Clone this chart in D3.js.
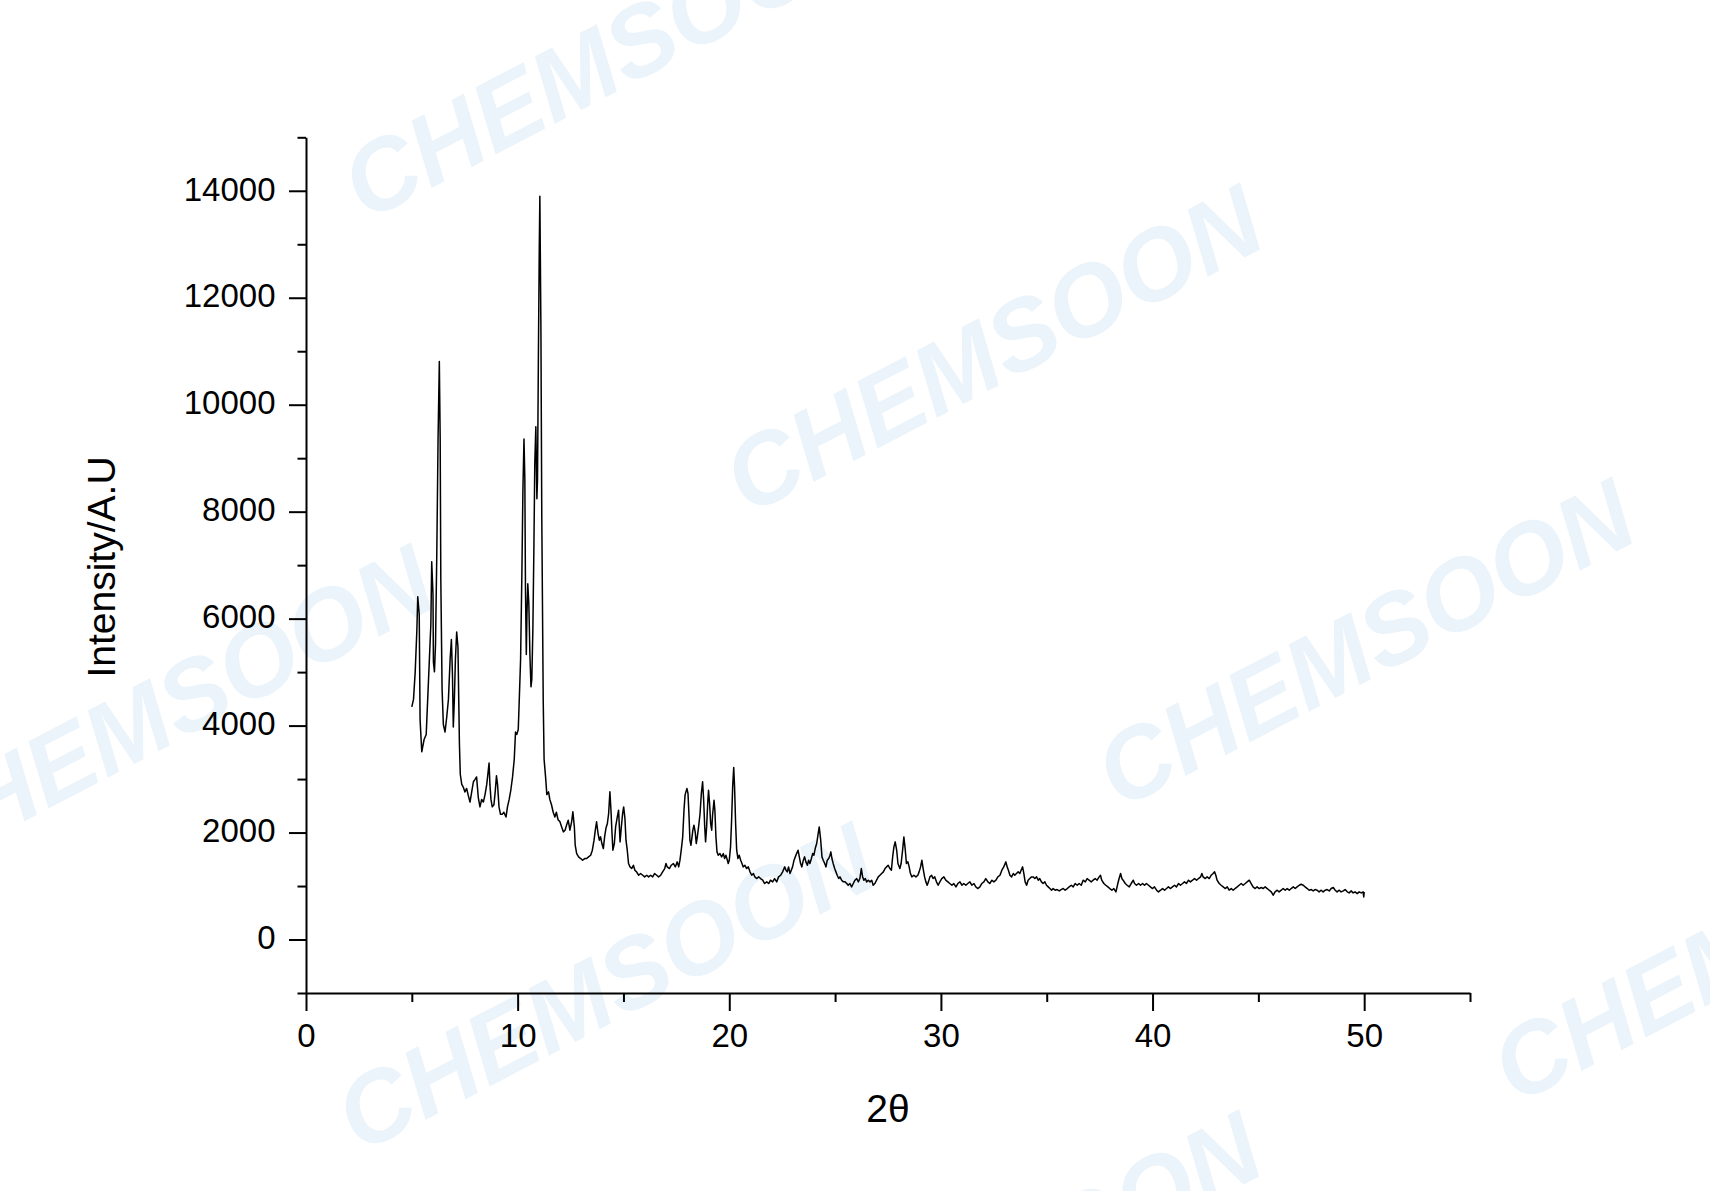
<!DOCTYPE html>
<html>
<head>
<meta charset="utf-8">
<script src="https://cdn.jsdelivr.net/npm/d3@7"></script>
<style>
  body { margin: 0; background: #fff; }
  svg { display: block; }
  text { font-family: "Liberation Sans", Arial, sans-serif; }
</style>
</head>
<body>
<div id="xrd-chart"></div>
<script>
// XRD pattern, values as [2theta, intensity]
const lowAngle = [
  [5.0,4350],[5.08,4490],[5.16,5005],[5.24,5800],[5.28,6410],[5.35,6080],[5.39,4115],[5.47,3510],
  [5.58,3740],[5.68,3835],[5.74,4400],[5.83,5240],[5.9,5895],[5.94,7065],[6.0,6460],[6.02,5190],
  [6.07,5005],[6.12,5520],[6.18,7206],[6.24,9360],[6.3,10810],[6.34,9360],[6.37,6740],[6.43,4680],
  [6.49,4020],[6.57,3880],[6.65,4160],[6.73,4490],[6.81,5240],[6.87,5610],[6.92,4960],[6.96,3975],
  [7.01,4490],[7.06,5240],[7.12,5750],[7.18,5470],[7.25,3650],[7.29,3090],[7.36,2900],[7.43,2850],
  [7.51,2760],[7.59,2825],[7.67,2690],[7.75,2570],[7.83,2760],[7.91,2950],[7.98,2990],[8.06,3040],
  [8.14,2660],[8.22,2480],[8.3,2620],[8.38,2570],[8.46,2710],[8.54,2900],[8.58,3040],[8.65,3300],
  [8.69,2900],[8.74,2620],[8.8,2480],[8.88,2520],[8.94,2760],[9.0,3060],[9.05,2900],[9.12,2480],
  [9.19,2340],[9.27,2340],[9.35,2380],[9.45,2290],[9.52,2480],[9.6,2620],[9.68,2800],[9.76,3040],
  [9.84,3370],[9.9,3880],[9.96,3835],[10.03,3930],[10.07,4400],[10.14,5240],[10.2,6830],[10.25,8420],
  [10.3,9360],[10.34,8610],[10.37,6550],[10.41,5330],[10.44,6080],[10.48,6650],[10.53,6270],[10.58,5330],
  [10.63,4725],[10.67,4865],[10.72,5800],[10.77,7390],[10.81,8890],[10.86,9590],[10.91,8240],[10.94,8610],
  [10.98,10860],[11.02,12830],[11.05,13900],[11.1,11420],[11.14,7950],[11.21,4440],[11.25,3370],[11.32,3040],
  [11.38,2710],[11.46,2760],[11.52,2620],[11.6,2520],[11.68,2380],[11.76,2290],[11.83,2380],[11.91,2240]
];

const midAngle = [
  [12.0,2200],[12.08,2106],[12.16,2013],[12.24,2044],[12.31,2137],[12.39,2231],[12.47,2044],[12.55,2200],
  [12.61,2387],[12.68,2106],[12.72,1763],[12.79,1607],[12.88,1545],[12.98,1514],[13.07,1483],[13.17,1514],
  [13.26,1514],[13.35,1545],[13.45,1576],[13.53,1670],[13.61,1857],[13.67,2044],[13.73,2200],[13.8,1982],
  [13.86,1857],[13.92,1920],[13.98,1795],[14.05,1701],[14.11,1920],[14.17,2075],[14.24,2169],[14.3,2356],
  [14.36,2761],[14.41,2418],[14.46,1982],[14.5,1670],[14.57,1795],[14.63,2106],[14.71,2293],[14.77,2418],
  [14.84,1826],[14.9,2106],[14.96,2356],[15.01,2480],[15.07,2262],[15.12,1857],[15.18,1670],[15.24,1421],
  [15.31,1358],[15.39,1327],[15.47,1389],[15.54,1296],[15.62,1265],[15.72,1202],[15.81,1234],[15.91,1202],
  [16.0,1171],[16.1,1202],[16.19,1171],[16.28,1202],[16.38,1171],[16.47,1234],[16.57,1202],[16.66,1171],
  [16.76,1202],[16.85,1265],[16.95,1327],[17.01,1421],[17.07,1358],[17.17,1327],[17.26,1389],[17.36,1421],
  [17.45,1358],[17.54,1452],[17.61,1358],[17.67,1483],[17.73,1670],[17.8,1920],[17.86,2418],[17.91,2698],
  [17.95,2761],[18.0,2823],[18.05,2730],[18.1,2293],[18.14,1857],[18.19,1763],[18.24,1920],[18.28,2044],
  [18.33,2137],[18.39,2013],[18.44,1795],[18.49,1920],[18.55,2106],[18.62,2356],[18.68,2730],[18.74,2948],
  [18.79,2605],[18.84,2106],[18.88,1826],[18.93,2106],[18.98,2543],[19.02,2792],[19.07,2543],[19.12,2169],
  [19.17,2044],[19.21,2324],[19.28,2605],[19.32,2418],[19.37,1920],[19.42,1639],[19.48,1576],[19.56,1607],
  [19.64,1545],[19.72,1607],[19.78,1514],[19.84,1576],[19.91,1483],[19.95,1421],[20.0,1483],[20.06,1732],
  [20.11,2231],[20.16,2854],[20.21,3216],[20.25,2854],[20.3,2169],[20.35,1670],[20.41,1514],[20.47,1576],
  [20.54,1483],[20.6,1421],[20.66,1358],[20.74,1389],[20.82,1327],[20.9,1358],[20.98,1265],[21.06,1202],
  [21.14,1234],[21.21,1171],[21.29,1140],[21.39,1171],[21.48,1140],[21.58,1109],[21.67,1047],[21.77,1078],
  [21.86,1047],[21.95,1109],[22.05,1078],[22.14,1140],[22.24,1078],[22.33,1171],[22.43,1202],[22.52,1265],
  [22.62,1358],[22.68,1296],[22.74,1265],[22.8,1358],[22.87,1234],[22.93,1296],[22.99,1358],[23.06,1483],
  [23.12,1545],[23.18,1607],[23.25,1670],[23.31,1545],[23.37,1421],[23.43,1358],[23.5,1483],[23.56,1545],
  [23.62,1452],[23.69,1389],[23.75,1483],[23.81,1421],[23.88,1514],[23.94,1607],[24.0,1576],[24.06,1701],
  [24.13,1795],[24.19,1951],[24.25,2106],[24.32,1857],[24.38,1545],[24.44,1483],[24.51,1421],[24.57,1358],
  [24.63,1483],[24.7,1514],[24.76,1576],[24.8,1639],[24.85,1514],[24.91,1421],[24.98,1327],[25.04,1265],
  [25.1,1202],[25.17,1140],[25.23,1171],[25.31,1109],[25.39,1078],[25.47,1078],[25.55,1047],[25.62,1015],
  [25.7,1047],[25.78,984],[25.86,1047],[25.94,1109],[26.02,1140],[26.1,1078],[26.17,1140],[26.24,1327],
  [26.3,1171],[26.36,1109],[26.43,1140],[26.49,1078],[26.57,1109],[26.65,1078],[26.73,1109],[26.8,1015],
  [26.88,1047],[26.96,1109],[27.04,1171],[27.12,1202],[27.2,1234],[27.28,1265],[27.36,1327],[27.43,1358],
  [27.51,1389],[27.59,1327],[27.66,1296],[27.72,1545],[27.78,1732],[27.84,1826],[27.91,1670],[27.97,1421]
];

const highAngle = [
  [28.06,1327],[28.12,1421],[28.19,1670],[28.25,1919],[28.31,1701],[28.37,1421],[28.44,1452],[28.5,1358],
  [28.56,1234],[28.63,1171],[28.72,1202],[28.82,1171],[28.91,1202],[28.97,1265],[29.04,1358],[29.1,1483],
  [29.16,1327],[29.23,1171],[29.29,1078],[29.35,1015],[29.41,1078],[29.48,1171],[29.56,1202],[29.63,1140],
  [29.71,1171],[29.79,1078],[29.87,1015],[29.95,1078],[30.04,1140],[30.14,1171],[30.23,1109],[30.33,1078],
  [30.42,1047],[30.52,1015],[30.61,1047],[30.71,984],[30.8,1047],[30.9,1078],[30.99,1015],[31.08,1047],
  [31.18,1015],[31.27,1047],[31.37,1078],[31.46,1015],[31.56,1047],[31.65,984],[31.75,953],[31.84,984],
  [31.93,1047],[32.03,1078],[32.12,1140],[32.22,1078],[32.31,1047],[32.41,1109],[32.5,1078],[32.6,1109],
  [32.69,1171],[32.79,1202],[32.88,1296],[32.97,1358],[33.07,1452],[33.13,1358],[33.19,1296],[33.26,1202],
  [33.34,1171],[33.42,1234],[33.49,1202],[33.57,1234],[33.65,1265],[33.73,1234],[33.79,1296],[33.86,1358],
  [33.92,1234],[33.98,1078],[34.05,1015],[34.12,1109],[34.2,1140],[34.28,1171],[34.36,1171],[34.44,1140],
  [34.52,1171],[34.6,1109],[34.67,1140],[34.75,1078],[34.83,1047],[34.91,1078],[34.99,1015],[35.07,984],
  [35.15,953],[35.23,922],[35.3,953],[35.4,922],[35.49,934],[35.59,909],[35.68,934],[35.78,953],
  [35.87,922],[35.97,953],[36.06,984],[36.16,1015],[36.25,984],[36.34,1047],[36.44,1015],[36.53,1047],
  [36.63,1015],[36.72,1109],[36.82,1078],[36.91,1140],[37.0,1109],[37.1,1078],[37.19,1109],[37.29,1140],
  [37.38,1109],[37.48,1171],[37.54,1202],[37.6,1109],[37.7,1047],[37.79,1015],[37.89,984],[37.98,953],
  [38.08,922],[38.17,953],[38.27,891],[38.36,1047],[38.42,1140],[38.49,1234],[38.55,1140],[38.61,1109],
  [38.71,1047],[38.8,1015],[38.9,984],[38.99,1047],[39.09,1109],[39.15,1047],[39.24,1015],[39.34,1047],
  [39.43,1015],[39.53,1047],[39.62,1015],[39.71,1047],[39.81,1015],[39.9,984],[40.0,953],[40.09,984],
  [40.19,922],[40.28,891],[40.38,922],[40.47,953],[40.57,922],[40.66,953],[40.75,984],[40.85,953],
  [40.94,984],[41.04,1015],[41.13,984],[41.23,1047],[41.32,1015],[41.42,1047],[41.51,1078],[41.6,1047],
  [41.7,1109],[41.79,1078],[41.89,1109],[41.98,1140],[42.08,1109],[42.17,1140],[42.27,1171],[42.33,1234],
  [42.39,1171],[42.49,1140],[42.58,1171],[42.68,1140],[42.77,1202],[42.86,1234],[42.93,1265],[42.99,1202],
  [43.05,1109],[43.15,1047],[43.24,1015],[43.34,984],[43.43,953],[43.53,984],[43.62,922],[43.72,953],
  [43.81,922],[43.9,953],[44.0,984],[44.09,1015],[44.19,1047],[44.28,1015],[44.38,1047],[44.47,1078],
  [44.57,1109],[44.66,1047],[44.75,984],[44.85,953],[44.94,984],[45.04,953],[45.13,972],[45.23,953],
  [45.32,984],[45.42,953],[45.51,922],[45.61,891],[45.7,828],[45.79,891],[45.89,922],[45.98,891],
  [46.08,922],[46.17,953],[46.27,922],[46.36,953],[46.46,922],[46.55,953],[46.65,984],[46.74,953],
  [46.83,984],[46.93,1015],[47.02,1034],[47.12,1015],[47.21,984],[47.31,953],[47.4,922],[47.5,934],
  [47.59,909],[47.68,934],[47.78,922],[47.87,891],[47.97,922],[48.06,891],[48.16,922],[48.25,934],
  [48.35,909],[48.44,953],[48.54,972],[48.63,922],[48.72,891],[48.82,922],[48.91,891],[49.01,909],
  [49.1,934],[49.2,891],[49.29,872],[49.39,909],[49.48,872],[49.57,891],[49.67,859],[49.76,891],
  [49.86,872],[49.95,891],[49.98,797],[50.0,891]
];

const xMajorTicks = [0, 10, 20, 30, 40, 50];
const xMinorTicks = [5, 15, 25, 35, 45, 55];
const yMajorTicks = [0, 2000, 4000, 6000, 8000, 10000, 12000, 14000];
const yMinorTicks = [-1000, 1000, 3000, 5000, 7000, 9000, 11000, 13000, 15000];
const xTitle = '2\u03B8';
const yTitle = 'Intensity/A.U';
const watermarkText = 'CHEMSOON';
const watermarkSpots = [[611, 55], [993, 349], [1365, 643], [164, 709], [605, 987], [1761, 938], [992, 1276]];

drawPattern(lowAngle.concat(midAngle, highAngle));

function drawPattern(pattern) {
    const width = 1710;
    const height = 1191;
    const plot = {left: 306, right: 1470, top: 137.3, bottom: 993};

    const svg = d3.select('#xrd-chart')
        .append('svg')
            .attr('width', width)
            .attr('height', height)
            .attr('viewBox', [0, 0, width, height]);

    svg.append('rect')
        .attr('width', width)
        .attr('height', height)
        .attr('fill', '#fff');

    // faint watermark behind everything
    svg.append('g')
        .selectAll('text')
        .data(watermarkSpots)
        .join('text')
            .attr('transform', d => `translate(${d[0]},${d[1]}) rotate(-27.5)`)
            .attr('text-anchor', 'middle')
            .attr('dominant-baseline', 'central')
            .attr('font-size', 100)
            .attr('font-weight', 'bold')
            .attr('font-style', 'italic')
            .attr('fill', '#ebf4fb')
            .text(watermarkText);

    const xScale = d3.scaleLinear()
        .domain([0, 55])
        .range([plot.left, plot.right]);

    const yScale = d3.scaleLinear()
        .domain([-1000, 15000])
        .range([plot.bottom, plot.top]);

    // minor ticks first, then the labelled axes on top
    svg.append('g')
        .attr('transform', `translate(0, ${plot.bottom})`)
        .call(d3.axisBottom(xScale).tickValues(xMinorTicks).tickSize(9).tickSizeOuter(0).tickFormat(''))
        .call(g => g.select('.domain').remove());

    svg.append('g')
        .attr('transform', `translate(${plot.left}, 0)`)
        .call(d3.axisLeft(yScale).tickValues(yMinorTicks).tickSize(8.5).tickSizeOuter(0).tickFormat(''))
        .call(g => g.select('.domain').remove());

    svg.append('g')
        .attr('transform', `translate(0, ${plot.bottom})`)
        .call(d3.axisBottom(xScale).tickValues(xMajorTicks).tickSize(18).tickSizeOuter(0)
            .tickPadding(13).tickFormat(d3.format('d')));

    const yAxis = svg.append('g')
        .attr('transform', `translate(${plot.left}, 0)`)
        .call(d3.axisLeft(yScale).tickValues(yMajorTicks).tickSize(17).tickSizeOuter(0)
            .tickPadding(13.5).tickFormat(d3.format('d')));

    svg.selectAll('.tick line, .domain')
        .attr('stroke', '#000')
        .attr('stroke-width', 2);

    svg.selectAll('.tick text')
        .attr('fill', '#000')
        .attr('font-size', 33)
        .attr('font-family', '"Liberation Sans", Arial, sans-serif');

    yAxis.selectAll('.tick text').attr('dy', '0.28em');

    svg.append('text')
        .attr('text-anchor', 'middle')
        .attr('x', (plot.left + plot.right) / 2)
        .attr('y', 1122)
        .attr('font-size', 39)
        .text(xTitle);

    svg.append('text')
        .attr('text-anchor', 'middle')
        .attr('transform', 'translate(115, 567) rotate(-90)')
        .attr('font-size', 39)
        .text(yTitle);

    const line = d3.line()
        .x(d => xScale(d[0]))
        .y(d => yScale(d[1]));

    svg.append('path')
        .datum(pattern)
        .attr('fill', 'none')
        .attr('stroke', '#000')
        .attr('stroke-width', 1.5)
        .attr('stroke-linejoin', 'round')
        .attr('d', line);
}
</script>
</body>
</html>
